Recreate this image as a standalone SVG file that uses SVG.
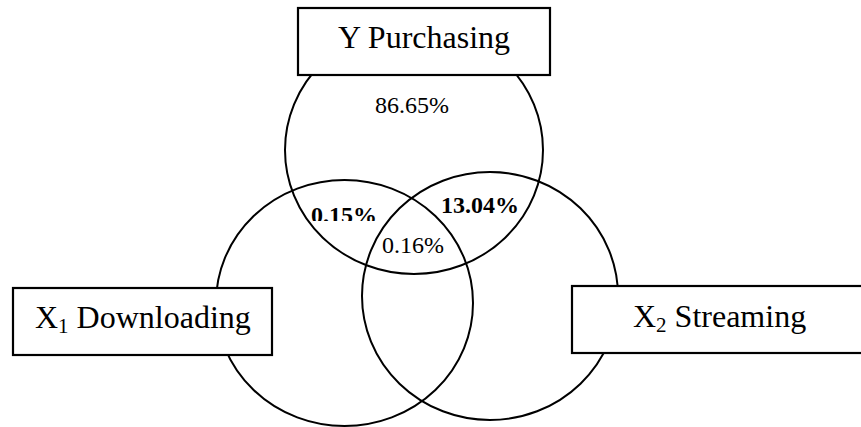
<svg xmlns="http://www.w3.org/2000/svg" width="861" height="427" viewBox="0 0 861 427">
<style>
.c{fill:none;stroke:#000;stroke-width:2}
.b{fill:#fff;stroke:#000;stroke-width:2.2}
.t{font-family:"Liberation Serif","Times New Roman",serif;fill:#000}
.big{font-size:32px}
.p{font-size:24px}
.bold{font-weight:bold}
</style>
<defs>
<clipPath id="clip15"><rect x="300" y="190" width="90" height="31"/></clipPath>
</defs>
<rect width="861" height="427" fill="#fff"/>
<g id="circles">
<ellipse id="circleY" class="c" cx="414" cy="150" rx="129" ry="124"/>
<ellipse id="circleX1" class="c" cx="344.5" cy="303" rx="128.5" ry="123"/>
<ellipse id="circleX2" class="c" cx="490" cy="296" rx="128" ry="124"/>
</g>
<g id="nodeY">
<rect class="b" x="298" y="8" width="252" height="67"/>
<text class="t big" x="424" y="48" text-anchor="middle">Y Purchasing</text>
</g>
<g id="nodeX1">
<rect class="b" x="13" y="288" width="259" height="67"/>
<text class="t big" x="35" y="328">X<tspan font-size="21" dy="5">1</tspan><tspan dy="-5"> Downloading</tspan></text>
</g>
<g id="nodeX2">
<rect class="b" x="572" y="286" width="300" height="67"/>
<text class="t big" x="633" y="327">X<tspan font-size="21" dy="5">2</tspan><tspan dy="-5"> Streaming</tspan></text>
</g>
<g id="labels">
<text class="t p" x="375" y="113">86.65%</text>
<text class="t p bold" x="311" y="223" clip-path="url(#clip15)">0.15%</text>
<text class="t p bold" x="441" y="213">13.04%</text>
<text class="t p" x="382" y="253">0.16%</text>
</g>
</svg>
